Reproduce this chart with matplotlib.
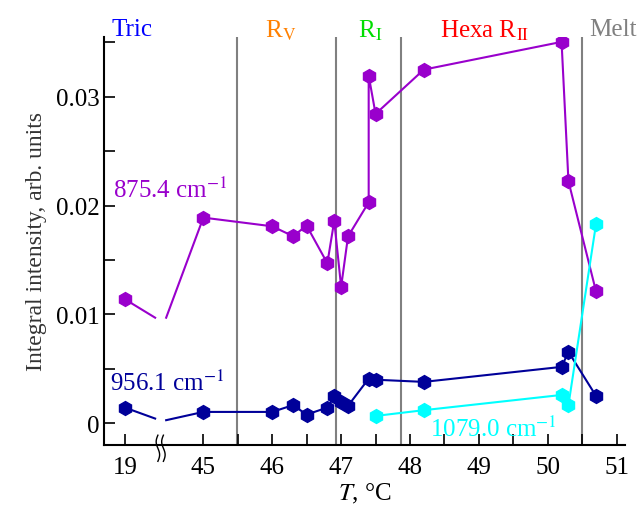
import numpy as np
import matplotlib
matplotlib.use("Agg")
import matplotlib.pyplot as plt
from matplotlib.ticker import MultipleLocator

plt.rcParams['font.family'] = ['Liberation Serif', 'DejaVu Serif']
plt.rcParams['mathtext.fontset'] = 'stix'

# data (temperature in deg C, integral intensity)
t_purple = [45, 46, 46.3, 46.5, 46.8, 46.9, 47.0, 47.1, 47.4, 47.4, 47.5, 48.2, 50.2, 50.3, 50.7]
v_purple = [0.0189, 0.0181, 0.0172, 0.01815, 0.0147, 0.0186, 0.01254, 0.01717, 0.0203, 0.03195,
            0.02843, 0.0325, 0.03505, 0.02224, 0.01212]
t_blue = [45, 46, 46.3, 46.5, 46.8, 46.9, 47.0, 47.1, 47.4, 47.5, 48.2, 50.2, 50.3, 50.7]
v_blue = [0.00104, 0.00104, 0.00166, 0.0008, 0.00144, 0.00246, 0.00196, 0.0016, 0.0041, 0.0040,
          0.0038, 0.00518, 0.00656, 0.00251]
t_cyan = [47.5, 48.2, 50.2, 50.3, 50.7]
v_cyan = [0.00067, 0.0012, 0.0026, 0.00168, 0.0183]

# room temperature point (19 C) and line ends at the axis break
rt_purple = 0.0114
rt_blue = 0.00144
brk_purple = [0.0097, 0.0097]
brk_blue = [0.00043, 0.00028]

phase_bounds = [45.49, 46.93, 47.87, 50.5]
phase_names = ['Tric', r'R$_\mathrm{V}$', r'R$_\mathrm{I}$', r'Hexa R$_\mathrm{II}$', 'Melt']
phase_pos = [43.96, 46.12, 47.42, 49.09, 50.95]
phase_colors = ['#0000ff', '#ff8000', '#00dd00', '#ff0000', '#808080']

x19 = 43.86          # where 19 C sits on the broken axis
brk_l, brk_r = 44.30, 44.46

c_purple = '#9900cc'
c_blue = '#000099'
c_cyan = '#00ffff'

fig = plt.figure(figsize=(6.39, 5.10), dpi=100)
ax = fig.add_axes([0.163, 0.1255, 0.815, 0.80])

for xb in phase_bounds:
    ax.axvline(xb, color='#808080', lw=1.5, zorder=1)

ms = 10
ax.plot([x19, brk_l], [rt_purple, brk_purple[0]], color=c_purple, lw=1.5, marker='h', ms=ms,
        markevery=[0], zorder=3)
ax.plot([brk_r] + t_purple, [brk_purple[1]] + v_purple, color=c_purple, lw=1.5, zorder=3)
ax.plot(t_purple, v_purple, color=c_purple, lw=0, marker='h', ms=ms, zorder=4)

ax.plot([x19, brk_l], [rt_blue, brk_blue[0]], color=c_blue, lw=1.5, marker='h', ms=ms,
        markevery=[0], zorder=3)
ax.plot([brk_r] + t_blue, [brk_blue[1]] + v_blue, color=c_blue, lw=1.5, zorder=3)
ax.plot(t_blue, v_blue, color=c_blue, lw=0, marker='h', ms=ms, zorder=4)

ax.plot(t_cyan, v_cyan, color=c_cyan, lw=1.5, marker='h', ms=ms, zorder=3)

ax.set_xlim(43.56, 51.12)
ax.set_ylim(-0.002, 0.0355)

ax.set_xticks([x19, 45, 46, 47, 48, 49, 50, 51])
ax.set_xticklabels(['19', '45', '46', '47', '48', '49', '50', '51'])
ax.set_xticks(np.arange(45.5, 51, 1.0), minor=True)
ax.set_yticks([0, 0.01, 0.02, 0.03])
ax.set_yticklabels(['0', '0.01', '0.02', '0.03'])
ax.yaxis.set_minor_locator(MultipleLocator(0.005))
ax.tick_params(which='both', direction='in', length=8, width=1.2, labelsize=18)
ax.tick_params(axis='x', pad=8)

for s in ['top', 'right']:
    ax.spines[s].set_visible(False)
for s in ['left', 'bottom']:
    ax.spines[s].set_linewidth(1.5)

# break marks
bx = np.linspace(-1, 1, 30)
for off in [-0.04, 0.04]:
    xs = (brk_l + brk_r) / 2 + off + 0.025 * np.sin(bx * np.pi)
    ys = -0.0023 - 0.0012 * bx
    ax.plot(xs, ys, color='k', lw=1.0, clip_on=False, zorder=5)

ax.set_ylabel('Integral intensity, arb. units', fontsize=17, color='#333333', labelpad=6)
ax.set_xlabel(r'$T$, °C', fontsize=18, labelpad=2)

ax.text(43.69, 0.0215, r'875.4 cm$^{-1}$', color=c_purple, fontsize=18, va='center', ha='left')
ax.text(43.65, 0.0038, r'956.1 cm$^{-1}$', color=c_blue, fontsize=18, va='center', ha='left')
ax.text(48.29, -0.0005, r'1079.0 cm$^{-1}$', color=c_cyan, fontsize=18, va='center', ha='left')

for name, xp, col in zip(phase_names, phase_pos, phase_colors):
    ax.text(xp, 0.0362, name, color=col, fontsize=18, ha='center', va='center', clip_on=False)

fig.savefig('out.png', dpi=100)
